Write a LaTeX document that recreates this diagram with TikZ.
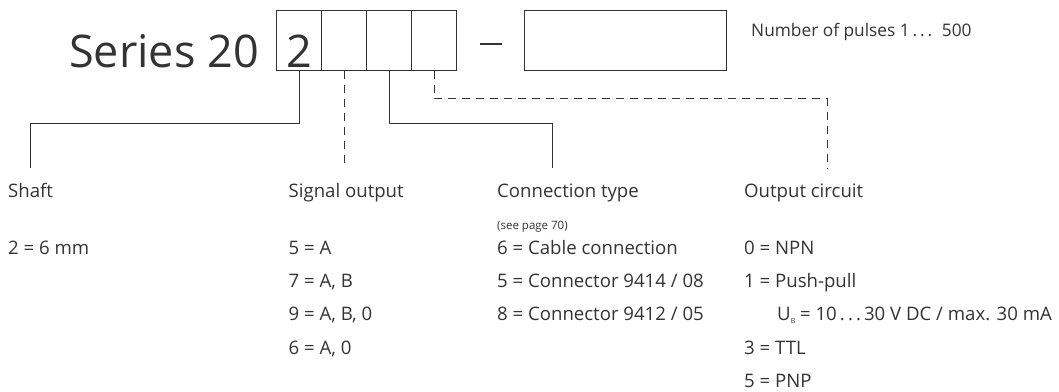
\documentclass[tikz,border=0pt]{standalone}
\usepackage{fontspec}
\setmainfont{Open Sans}
\definecolor{ink}{HTML}{333333}
\begin{document}
\begin{tikzpicture}[x=1pt,y=-1pt,
  cell/.style={draw=ink,line width=1pt,minimum width=45pt,minimum height=60pt,inner sep=0pt},
  big/.style={inner sep=0pt,anchor=base,text=ink,font=\fontsize{45}{45}\selectfont},
  txt/.style={inner sep=0pt,anchor=base west,text=ink,font=\fontsize{18.6}{22}\selectfont},
  small/.style={inner sep=0pt,anchor=base west,text=ink,font=\fontsize{11.5}{13}\selectfont},
  conn/.style={draw=ink,line width=1pt},
  dconn/.style={draw=ink,line width=1pt,dash pattern=on 8pt off 6pt}]
\useasboundingbox (0,0) rectangle (1059,391);
% code boxes
\node[big,anchor=base west] (series) at (69,67) {Series 20};
\node[cell] (b1) at (299,40) {};
\node[cell] (b2) at (344,40) {};
\node[cell] (b3) at (389,40) {};
\node[cell] (b4) at (434,40) {};
\node[big] (two) at (299.5,67) {2};
\node[inner sep=0pt] (dash) at (491,44) {\tikz\draw[ink,line width=1.6pt] (0,0) -- (22pt,0);};
\node[draw=ink,line width=1pt,minimum width=202pt,minimum height=60pt,inner sep=0pt] (pulses) at (625,40) {};
\node[txt,font=\fontsize{17.3}{20}\selectfont] (pulsetxt) at (751,36.5) {Number of pulses 1\,.\,.\,.\;\;500};
% connector ends
\coordinate (e1) at (30,168);
\coordinate (e2) at (344,168);
\coordinate (e3) at (552,168);
\coordinate (e4) at (827,168);
\draw[conn] (b1.south) -- ++(0,53) -| (e1);
\draw[dconn] (b2.south) -- (e2);
\draw[conn] (b3.south) -- ++(0,53) -| (e3);
\draw[dconn] (b4.south) -- ++(0,28) -| (e4);
% column 1
\node[txt] (shaft) at (8,197) {Shaft};
\node[txt] (s1) at (8,254) {2 = 6 mm};
% column 2
\node[txt] (sig) at (288.5,197) {Signal output};
\node[txt] (g1) at (288.5,254) {5 = A};
\node[txt] (g2) at (288.5,287) {7 = A, B};
\node[txt] (g3) at (288.5,320) {9 = A, B, 0};
\node[txt] (g4) at (288.5,354) {6 = A, 0};
% column 3
\node[txt] (con) at (497,197) {Connection type};
\node[small] (page) at (497,229) {(see page 70)};
\node[txt] (c1) at (497,254) {6 = Cable connection};
\node[txt] (c2) at (497,287) {5 = Connector 9414 / 08};
\node[txt] (c3) at (497,320) {8 = Connector 9412 / 05};
% column 4
\node[txt] (out) at (744,197) {Output circuit};
\node[txt] (o1) at (744,254) {0 = NPN};
\node[txt] (o2) at (744,287) {1 = Push-pull};
\node[txt] (o3) at (777,320) {U\raisebox{-3pt}{\fontsize{7}{7}\selectfont B} = 10\,.\,.\,.\,30 V DC / max. 30 mA};
\node[txt] (o4) at (744,354) {3 = TTL};
\node[txt] (o5) at (744,387) {5 = PNP};
\end{tikzpicture}
\end{document}
